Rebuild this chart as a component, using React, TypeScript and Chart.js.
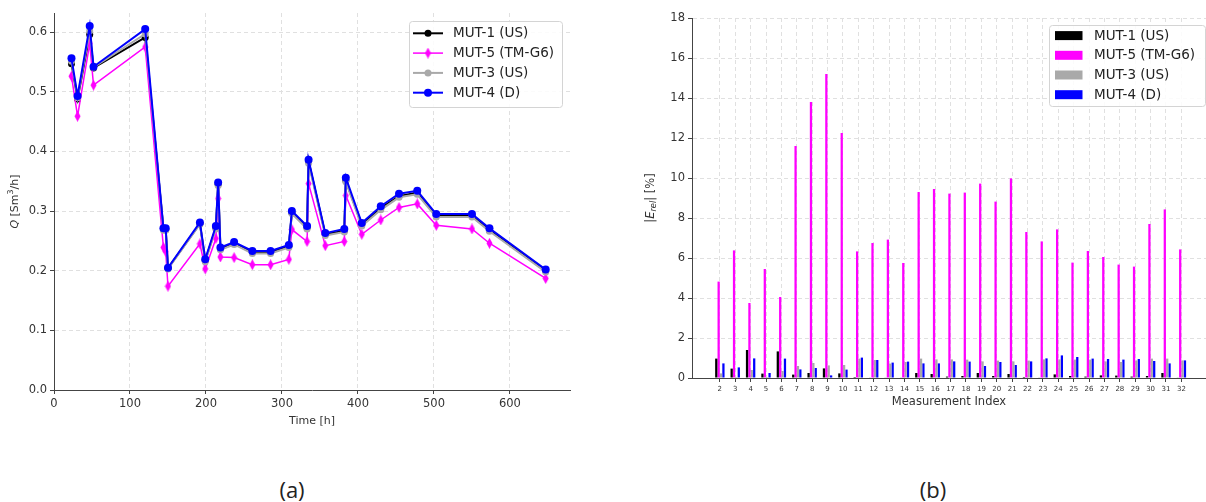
import { useEffect, useRef } from 'react'
import { Chart, registerables } from 'chart.js'

Chart.register(...registerables)

const FONT = "'DejaVu Sans', sans-serif"
const INK = '#333333'
const GRID = '#e0e0e0'
const AXIS = '#444444'

// ---- (a) flow rate over time ----
const timeH = [23, 31, 47, 52, 120, 144, 147, 150, 192, 199, 213, 216, 219, 237, 261, 285, 309, 313, 333, 335, 357, 382, 384, 405, 430, 454, 478, 503, 550, 573, 647]
const qMut1 = [0.547, 0.488, 0.596, 0.54, 0.591, 0.27, 0.269, 0.204, 0.279, 0.217, 0.272, 0.345, 0.237, 0.246, 0.231, 0.231, 0.241, 0.297, 0.272, 0.383, 0.261, 0.267, 0.351, 0.277, 0.305, 0.325, 0.331, 0.292, 0.292, 0.268, 0.2]
const qMut5 = [0.526, 0.459, 0.581, 0.511, 0.575, 0.239, 0.232, 0.174, 0.245, 0.203, 0.254, 0.321, 0.223, 0.222, 0.21, 0.21, 0.219, 0.269, 0.249, 0.346, 0.242, 0.249, 0.326, 0.261, 0.285, 0.306, 0.312, 0.276, 0.27, 0.246, 0.187]
const qMut3 = [0.551, 0.49, 0.602, 0.541, 0.597, 0.268, 0.268, 0.203, 0.278, 0.215, 0.27, 0.343, 0.235, 0.244, 0.229, 0.229, 0.239, 0.296, 0.27, 0.38, 0.259, 0.265, 0.349, 0.275, 0.302, 0.323, 0.328, 0.29, 0.29, 0.266, 0.198]
const qMut4 = [0.556, 0.493, 0.61, 0.542, 0.605, 0.271, 0.271, 0.205, 0.281, 0.219, 0.275, 0.348, 0.239, 0.248, 0.233, 0.233, 0.243, 0.3, 0.275, 0.386, 0.263, 0.27, 0.356, 0.28, 0.308, 0.329, 0.334, 0.295, 0.295, 0.271, 0.202]

// ---- (b) relative error per measurement ----
const measIndex = [2, 3, 4, 5, 6, 7, 8, 9, 10, 11, 12, 13, 14, 15, 16, 17, 18, 19, 20, 21, 22, 23, 24, 25, 26, 27, 28, 29, 30, 31, 32]
const eMut1 = [0.97, 0.47, 1.4, 0.22, 1.33, 0.17, 0.25, 0.48, 0.23, 0.05, 0.02, 0.03, 0.02, 0.25, 0.2, 0.07, 0.1, 0.25, 0.1, 0.2, 0.05, 0.03, 0.18, 0.1, 0.07, 0.13, 0.12, 0.07, 0.1, 0.25, 0.02]
const eMut5 = [4.82, 6.38, 3.75, 5.45, 4.05, 11.6, 13.8, 15.2, 12.25, 6.33, 6.75, 6.92, 5.75, 9.3, 9.45, 9.22, 9.27, 9.72, 8.82, 9.98, 7.3, 6.83, 7.43, 5.77, 6.35, 6.05, 5.67, 5.57, 7.7, 8.43, 6.43]
const eMut3 = [0.23, 0.05, 0.4, 0.05, 0.35, 0.6, 0.75, 0.63, 0.65, 0.97, 0.9, 0.72, 0.8, 0.97, 0.93, 0.93, 0.92, 0.83, 0.87, 0.83, 0.87, 0.93, 0.93, 0.92, 0.92, 0.83, 0.8, 0.88, 0.97, 0.97, 0.88]
const eMut4 = [0.73, 0.53, 0.98, 0.25, 0.97, 0.43, 0.5, 0.13, 0.42, 1.02, 0.9, 0.77, 0.82, 0.73, 0.73, 0.83, 0.82, 0.6, 0.8, 0.65, 0.83, 0.98, 1.13, 1.05, 0.97, 0.95, 0.92, 0.95, 0.85, 0.73, 0.88]

const labels = ['MUT-1 (US)', 'MUT-5 (TM-G6)', 'MUT-3 (US)', 'MUT-4 (D)']
const colors = ['#000000', '#ff00ff', '#a9a9a9', '#0000ff']

// matplotlib-like thin diamond marker
function thinDiamond(color: string) {
  const c = document.createElement('canvas')
  c.width = 7
  c.height = 11
  const g = c.getContext('2d')!
  g.fillStyle = color
  g.beginPath()
  g.moveTo(3.5, 0)
  g.lineTo(6.5, 5.5)
  g.lineTo(3.5, 11)
  g.lineTo(0.5, 5.5)
  g.closePath()
  g.fill()
  return c
}

type LegendCfg = {
  left: number
  top: number
  width: number
  height: number
  firstRow: number
  rowGap: number
  handleX: number
  handleW: number
  textX: number
  kind: 'line' | 'patch'
}

function boxLegend(cfg: LegendCfg) {
  return {
    id: 'boxLegend',
    afterDraw(chart: Chart) {
      const { ctx } = chart
      ctx.save()
      ctx.fillStyle = 'rgba(255,255,255,0.85)'
      ctx.strokeStyle = '#d4d4d4'
      ctx.lineWidth = 1
      ctx.beginPath()
      ctx.roundRect(cfg.left + 0.5, cfg.top + 0.5, cfg.width, cfg.height, 3)
      ctx.fill()
      ctx.stroke()
      chart.data.datasets.forEach((ds: any, i: number) => {
        const y = cfg.top + cfg.firstRow + i * cfg.rowGap
        const color = colors[i]
        if (cfg.kind === 'line') {
          ctx.strokeStyle = color
          ctx.lineWidth = ds.borderWidth
          ctx.beginPath()
          ctx.moveTo(cfg.handleX, y)
          ctx.lineTo(cfg.handleX + cfg.handleW, y)
          ctx.stroke()
          const cx = cfg.handleX + cfg.handleW / 2
          if (ds.pointStyle instanceof HTMLCanvasElement) {
            ctx.drawImage(ds.pointStyle, cx - ds.pointStyle.width / 2, y - ds.pointStyle.height / 2)
          } else {
            ctx.fillStyle = color
            ctx.beginPath()
            ctx.arc(cx, y, ds.pointRadius, 0, Math.PI * 2)
            ctx.fill()
          }
        } else {
          ctx.fillStyle = color
          ctx.fillRect(cfg.handleX, y - 4.5, cfg.handleW, 9)
        }
        ctx.fillStyle = '#222'
        ctx.font = `13.5px ${FONT}`
        ctx.textBaseline = 'middle'
        ctx.fillText(ds.label, cfg.textX, y + 0.5)
      })
      ctx.restore()
    },
  }
}

type Part = { text: string; italic?: boolean; sub?: boolean; sup?: boolean }

// rotated y title with italic / sub / sup pieces
function richYTitle(x: number, parts: Part[], size: number) {
  return {
    id: 'richYTitle',
    afterDraw(chart: Chart) {
      const { ctx, chartArea } = chart
      const fontOf = (p: Part) => `${p.italic ? 'italic ' : ''}${p.sub || p.sup ? size * 0.72 : size}px ${FONT}`
      ctx.save()
      ctx.translate(x, (chartArea.top + chartArea.bottom) / 2)
      ctx.rotate(-Math.PI / 2)
      let total = 0
      parts.forEach((p) => {
        ctx.font = fontOf(p)
        total += ctx.measureText(p.text).width
      })
      let cx = -total / 2
      ctx.fillStyle = INK
      ctx.textBaseline = 'middle'
      parts.forEach((p) => {
        ctx.font = fontOf(p)
        ctx.fillText(p.text, cx, p.sup ? -size * 0.38 : p.sub ? size * 0.28 : 0)
        cx += ctx.measureText(p.text).width
      })
      ctx.restore()
    },
  }
}

const gridOpts = { color: GRID, tickColor: AXIS, tickLength: 4, tickBorderDash: [] as number[] }
const borderOpts = { color: AXIS, width: 1, dash: [4, 3] }

export default function App() {
  const lineRef = useRef<HTMLCanvasElement>(null)
  const barRef = useRef<HTMLCanvasElement>(null)

  useEffect(() => {
    const charts: Chart[] = []
    const series = [qMut1, qMut5, qMut3, qMut4]

    if (lineRef.current) {
      charts.push(
        new Chart(lineRef.current, {
          type: 'line',
          data: {
            datasets: series.map((s, i) => ({
              label: labels[i],
              data: s.map((q, k) => ({ x: timeH[k], y: q })),
              borderColor: colors[i],
              backgroundColor: colors[i],
              borderWidth: i === 1 ? 1.5 : 2,
              pointRadius: i === 3 ? 4 : 3.5,
              pointBorderWidth: 0,
              pointStyle: i === 1 ? (thinDiamond(colors[1]) as any) : 'circle',
              tension: 0,
              order: 4 - i,
            })),
          },
          options: {
            responsive: false,
            animation: false,
            layout: { padding: { top: 13, right: 10, left: 0, bottom: 0 } },
            plugins: { legend: { display: false }, tooltip: { enabled: false } },
            scales: {
              x: {
                type: 'linear',
                min: 0,
                max: 679,
                grid: gridOpts,
                border: borderOpts,
                ticks: { stepSize: 100, includeBounds: false, color: INK, font: { family: FONT, size: 11.5 }, padding: 3, maxRotation: 0 },
                title: { display: true, text: 'Time [h]', color: INK, font: { family: FONT, size: 11 }, padding: { top: 0, bottom: 2 } },
                afterFit: (s: any) => {
                  s.height = 40
                },
              },
              y: {
                type: 'linear',
                min: 0,
                max: 0.632,
                grid: gridOpts,
                border: borderOpts,
                ticks: { stepSize: 0.1, includeBounds: false, color: INK, font: { family: FONT, size: 11.5 }, padding: 3, callback: (v: any) => Number(v).toFixed(1) },
                afterFit: (s: any) => {
                  s.width = 54
                },
              },
            },
          },
          plugins: [
            boxLegend({ left: 409, top: 21, width: 153, height: 86, firstRow: 12.3, rowGap: 19.8, handleX: 413, handleW: 30, textX: 453, kind: 'line' }),
            richYTitle(15, [{ text: 'Q', italic: true }, { text: ' [Sm' }, { text: '3', sup: true }, { text: '/h]' }], 11),
          ],
        }),
      )
    }

    if (barRef.current) {
      const errs = [eMut1, eMut5, eMut3, eMut4]
      charts.push(
        new Chart(barRef.current, {
          type: 'bar',
          data: {
            labels: measIndex,
            datasets: errs.map((e, i) => ({
              label: labels[i],
              data: e,
              backgroundColor: colors[i],
              borderWidth: 0,
              categoryPercentage: 0.62,
              barPercentage: 0.95,
            })),
          },
          options: {
            responsive: false,
            animation: false,
            layout: { padding: { top: 18, right: 0, left: 0, bottom: 0 } },
            plugins: { legend: { display: false }, tooltip: { enabled: false } },
            scales: {
              x: {
                type: 'linear',
                min: 0.19,
                max: 33.6,
                offset: false,
                grid: { ...gridOpts, offset: false },
                border: borderOpts,
                afterBuildTicks: (s: any) => {
                  s.ticks = measIndex.map((v) => ({ value: v }))
                },
                ticks: { color: INK, font: { family: FONT, size: 7 }, padding: 3, maxRotation: 0, autoSkip: false },
                title: { display: true, text: 'Measurement Index', color: INK, font: { family: FONT, size: 11.5 }, padding: { top: 0, bottom: 21 } },
                afterFit: (s: any) => {
                  s.height = 52
                },
              },
              y: {
                type: 'linear',
                min: 0,
                max: 18,
                grid: gridOpts,
                border: borderOpts,
                ticks: { stepSize: 2, color: INK, font: { family: FONT, size: 11.5 }, padding: 3 },
                afterFit: (s: any) => {
                  s.width = 72
                },
              },
            },
          },
          plugins: [
            boxLegend({ left: 429, top: 25, width: 156, height: 81, firstRow: 10.6, rowGap: 19.7, handleX: 435, handleW: 27.5, textX: 474, kind: 'patch' }),
            richYTitle(31, [{ text: '|' }, { text: 'E', italic: true }, { text: 'rel', italic: true, sub: true }, { text: '| [%]' }], 11.5),
          ],
        }),
      )
    }

    return () => charts.forEach((c) => c.destroy())
  }, [])

  return (
    <div style={page}>
      <canvas ref={lineRef} width={580} height={430} style={{ position: 'absolute', left: 0, top: 0 }} />
      <canvas ref={barRef} width={586} height={430} style={{ position: 'absolute', left: 620, top: 0 }} />
      <div style={{ ...caption, left: 262 }}>(a)</div>
      <div style={{ ...caption, left: 903 }}>(b)</div>
    </div>
  )
}

const page: React.CSSProperties = {
  position: 'absolute',
  left: 0,
  top: 0,
  width: 1206,
  height: 502,
  background: '#fff',
  overflow: 'hidden',
}
const caption: React.CSSProperties = {
  position: 'absolute',
  top: 474,
  width: 60,
  textAlign: 'center',
  fontFamily: "'Open Sans', sans-serif",
  fontSize: 22,
  lineHeight: '30px',
  color: '#222',
}
